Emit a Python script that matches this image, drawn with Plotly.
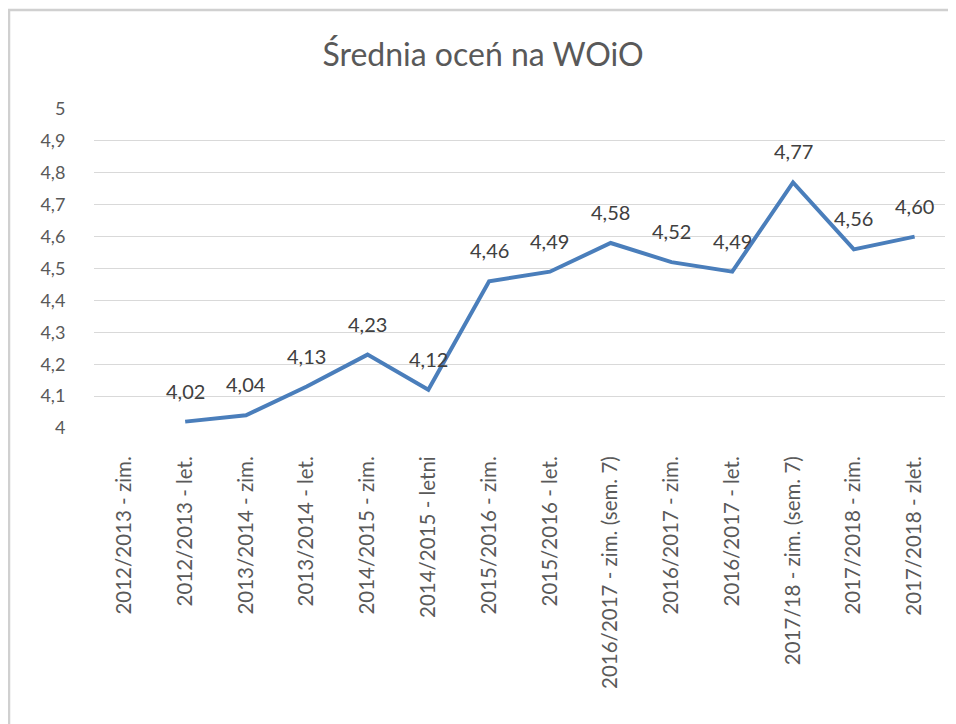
import plotly.graph_objects as go

categories = [
    "2012/2013 - zim.", "2012/2013 - let.", "2013/2014 - zim.", "2013/2014 - let.",
    "2014/2015 - zim.", "2014/2015 - letni", "2015/2016 - zim.", "2015/2016 - let.",
    "2016/2017 - zim. (sem. 7)", "2016/2017 - zim.", "2016/2017 - let.",
    "2017/18 - zim. (sem. 7)", "2017/2018 - zim.", "2017/2018 - zlet.",
]
values = [None, 4.02, 4.04, 4.13, 4.23, 4.12, 4.46, 4.49, 4.58, 4.52, 4.49, 4.77, 4.56, 4.60]
y_ticks = [4.0, 4.1, 4.2, 4.3, 4.4, 4.5, 4.6, 4.7, 4.8, 4.9, 5.0]
y_tick_labels = ["4", "4,1", "4,2", "4,3", "4,4", "4,5", "4,6", "4,7", "4,8", "4,9", "5"]
title = "Średnia oceń na WOiO"

labels = ["" if v is None else f"{v:.2f}".replace(".", ",") for v in values]

FONT = "Lato, Roboto, sans-serif"

fig = go.Figure()
fig.add_trace(go.Scatter(
    x=categories, y=values, mode="lines",
    line=dict(color="#4A7EBB", width=4),
    connectgaps=False, cliponaxis=False, showlegend=False,
))

for c, v, t in zip(categories, values, labels):
    if v is None:
        continue
    fig.add_annotation(x=c, y=v, text=t, showarrow=False, yanchor="bottom",
                       yshift=17, font=dict(family=FONT, size=20, color="#404040"))

# page body has an 8px margin, so figure coordinates are page coordinates minus 8
OFF = 8
W, H = 956 - OFF, 724 - OFF
L = 94 - OFF
R = W - (945 - OFF)
T = 109 - OFF
B = H - (428 - OFF)
PW, PH = W - L - R, H - T - B
fig.add_shape(type="rect", xref="paper", yref="paper",
              x0=(1 - L) / PW, x1=(W + 20 - L) / PW,
              y0=-(B + 20) / PH, y1=(H - B - 2) / PH,
              line=dict(color="#D0D0D0", width=2.5), fillcolor="rgba(0,0,0,0)", layer="below")

fig.update_layout(
    width=W, height=H,
    margin=dict(l=L, r=R, t=T, b=B, autoexpand=False),
    paper_bgcolor="white", plot_bgcolor="white",
    title=dict(text=title, x=(483 - OFF - L) / PW, xref="paper", xanchor="center",
               y=1 - (55 - OFF) / H, yanchor="middle",
               font=dict(family=FONT, size=32, color="#595959")),
    xaxis=dict(type="category", tickangle=-90, showgrid=False, showline=False,
               automargin=False, range=[-0.5, len(categories) - 0.5],
               tickfont=dict(family=FONT, size=20.5, color="#595959"),
               ticks="outside", ticklen=19, tickcolor="rgba(0,0,0,0)", zeroline=False),
    yaxis=dict(range=[4, 5], tickvals=y_ticks, ticktext=y_tick_labels,
               automargin=False,
               showgrid=True, gridcolor="#D9D9D9", gridwidth=1, zeroline=False,
               showline=False, tickfont=dict(family=FONT, size=18, color="#595959"),
               ticks="outside", ticklen=24, tickcolor="rgba(0,0,0,0)"),
)

fig.write_html("out.html")
